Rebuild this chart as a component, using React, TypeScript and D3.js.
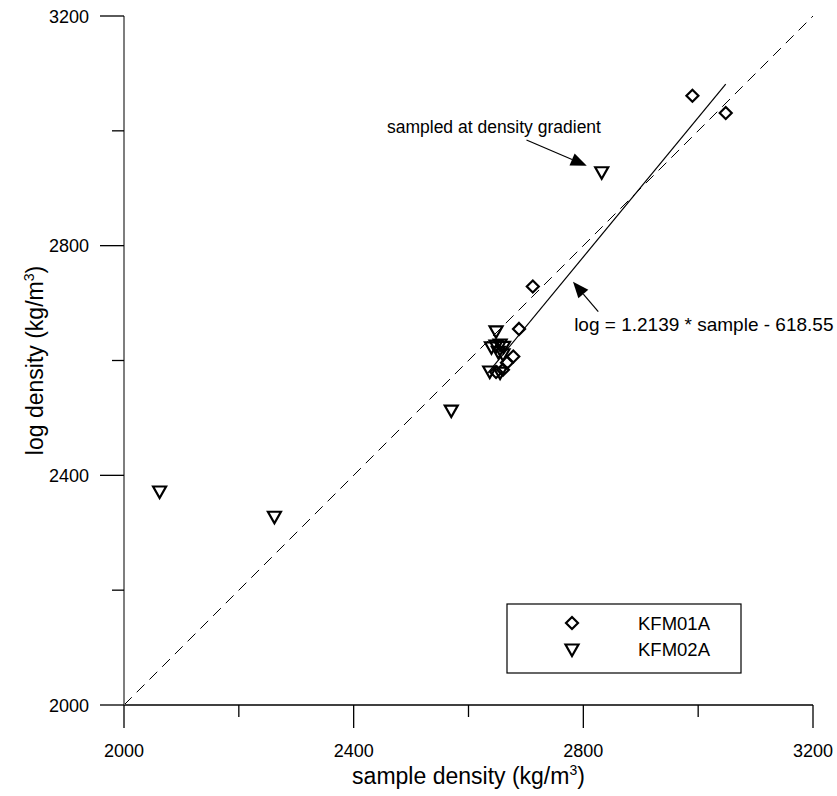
import React from "react";
import * as d3 from "d3";

// ---- data ----
const kfm01aSample = [2990, 3048, 2712, 2688, 2678, 2667, 2660, 2648];
const kfm01aLog = [3061, 3031, 2729, 2655, 2607, 2596, 2584, 2580];

const kfm02aSample = [2062, 2262, 2570, 2648, 2640, 2648, 2655, 2661, 2652, 2660, 2637, 2655, 2832];
const kfm02aLog = [2371, 2327, 2512, 2650, 2622, 2625, 2627, 2623, 2614, 2610, 2580, 2578, 2927];

const majorTicks = [2000, 2400, 2800, 3200];
const minorTicks = [2200, 2600, 3000];
const domain = [2000, 3200];

const fitSlope = 1.2139;
const fitIntercept = -618.55;
const fitRange = [2632, 3048];

const seriesNames = ["KFM01A", "KFM02A"];
const xTitle = "sample density (kg/m";
const yTitle = "log density (kg/m";
const eqText = "log = 1.2139 * sample - 618.55";
const gradText = "sampled at density gradient";

// annotation anchors in data units
const gradLabel = [2458, 2996];
const gradArrow = [[2701, 2984], [2806, 2939]];
const eqLabel = [2784, 2651];
const eqArrow = [[2826, 2685], [2782, 2737]];

const W = 837;
const H = 796;
const FONT = "'Liberation Sans', Arial, sans-serif";

const x = d3.scaleLinear().domain(domain).range([124, 813]);
const y = d3.scaleLinear().domain(domain).range([705, 16]);

const diamondPath = "M0,-6L6,0L0,6L-6,0Z";
const trianglePath = "M-6.5,-5.5L6.5,-5.5L0,6Z";

function Arrow({ from, to }: { from: number[]; to: number[] }) {
  const x1 = x(from[0]), y1 = y(from[1]);
  const x2 = x(to[0]), y2 = y(to[1]);
  const ang = Math.atan2(y2 - y1, x2 - x1);
  const len = 16, half = 6.5;
  const bx = x2 - len * Math.cos(ang), by = y2 - len * Math.sin(ang);
  const px = -Math.sin(ang) * half, py = Math.cos(ang) * half;
  return (
    <g>
      <line x1={x1} y1={y1} x2={bx} y2={by} stroke="#000" strokeWidth={1.2} />
      <path d={`M${x2},${y2}L${bx + px},${by + py}L${bx - px},${by - py}Z`} fill="#000" />
    </g>
  );
}

export default function App() {
  const fitLine = d3.line<number>()
    .x((s) => x(s))
    .y((s) => y(fitSlope * s + fitIntercept));
  const idLine = d3.line<number>().x((s) => x(s)).y((s) => y(s));

  return (
    <svg width={W} height={H} style={{ position: "absolute", left: 0, top: 0, background: "#fff" }} fontFamily={FONT}>
      {/* y = x dashed reference */}
      <path d={idLine(domain) || ""} stroke="#000" strokeWidth={1} fill="none" strokeDasharray="11,7" />
      {/* regression line */}
      <path d={fitLine(fitRange) || ""} stroke="#000" strokeWidth={1.2} fill="none" />

      {/* axes */}
      <line x1={x(domain[0])} x2={x(domain[1])} y1={y(domain[0])} y2={y(domain[0])} stroke="#000" strokeWidth={1.3} />
      <line x1={x(domain[0])} x2={x(domain[0])} y1={y(domain[0])} y2={y(domain[1])} stroke="#707070" strokeWidth={1.8} />
      {majorTicks.map((t) => (
        <g key={"mx" + t}>
          <line x1={x(t)} x2={x(t)} y1={y(domain[0])} y2={y(domain[0]) + 23} stroke="#000" strokeWidth={1.3} />
          <text x={x(t)} y={757} textAnchor="middle" fontSize={18}>{t}</text>
          <line x1={x(domain[0]) - 24} x2={x(domain[0])} y1={y(t)} y2={y(t)} stroke="#000" strokeWidth={1.3} />
          <text x={89} y={y(t) + 6.5} textAnchor="end" fontSize={18}>{t}</text>
        </g>
      ))}
      {minorTicks.map((t) => (
        <g key={"mn" + t}>
          <line x1={x(t)} x2={x(t)} y1={y(domain[0])} y2={y(domain[0]) + 12} stroke="#000" strokeWidth={1.3} />
          <line x1={x(domain[0]) - 12} x2={x(domain[0])} y1={y(t)} y2={y(t)} stroke="#000" strokeWidth={1.3} />
        </g>
      ))}

      {/* axis titles */}
      <text x={(x(domain[0]) + x(domain[1])) / 2} y={784} textAnchor="middle" fontSize={23}>
        {xTitle}<tspan fontSize={14} dy={-9}>3</tspan><tspan dy={9}>)</tspan>
      </text>
      <text transform={`translate(43,${(y(domain[0]) + y(domain[1])) / 2}) rotate(-90)`} textAnchor="middle" fontSize={23}>
        {yTitle}<tspan fontSize={14} dy={-9}>3</tspan><tspan dy={9}>)</tspan>
      </text>

      {/* points */}
      {kfm01aSample.map((s, i) => (
        <path key={"a" + i} d={diamondPath} transform={`translate(${x(s)},${y(kfm01aLog[i])})`} fill="none" stroke="#000" strokeWidth={2.2} />
      ))}
      {kfm02aSample.map((s, i) => (
        <path key={"b" + i} d={trianglePath} transform={`translate(${x(s)},${y(kfm02aLog[i])})`} fill="none" stroke="#000" strokeWidth={2.2} />
      ))}

      {/* annotations */}
      <text x={x(gradLabel[0])} y={y(gradLabel[1])} fontSize={17.5}>{gradText}</text>
      <Arrow from={gradArrow[0]} to={gradArrow[1]} />
      <text x={x(eqLabel[0])} y={y(eqLabel[1])} fontSize={19}>{eqText}</text>
      <Arrow from={eqArrow[0]} to={eqArrow[1]} />

      {/* legend */}
      <rect x={507} y={604} width={234} height={69} fill="#fff" stroke="#000" strokeWidth={1.2} />
      <path d={diamondPath} transform="translate(572,623)" fill="none" stroke="#000" strokeWidth={2.2} />
      <path d={trianglePath} transform="translate(572,650)" fill="none" stroke="#000" strokeWidth={2.2} />
      <text x={638} y={629.5} fontSize={18.5}>{seriesNames[0]}</text>
      <text x={638} y={656} fontSize={18.5}>{seriesNames[1]}</text>
    </svg>
  );
}
